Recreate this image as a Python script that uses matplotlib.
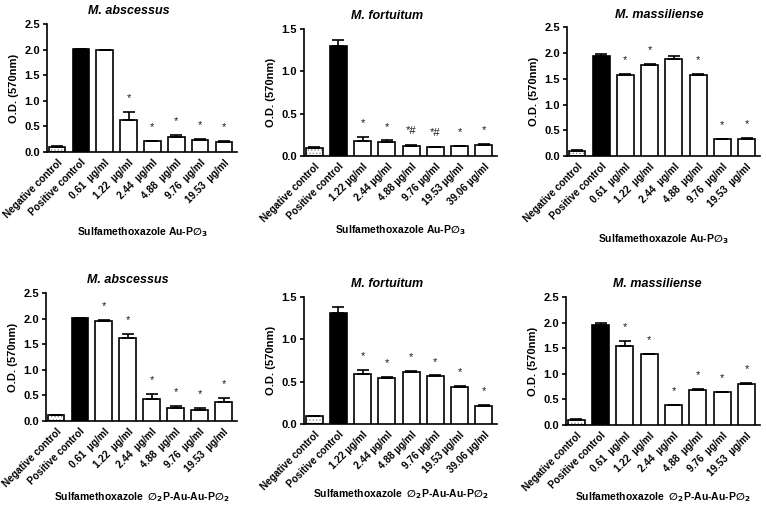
import numpy as np
import matplotlib
matplotlib.use('Agg')
import matplotlib.pyplot as plt

plt.rcParams['font.family'] = ['Liberation Sans', 'DejaVu Sans']
plt.rcParams['font.weight'] = 'bold'
plt.rcParams['mathtext.fontset'] = 'custom'
plt.rcParams['mathtext.rm'] = 'DejaVu Sans:bold'
plt.rcParams['mathtext.default'] = 'rm'
plt.rcParams['hatch.linewidth'] = 0.6

# ---- data ----
conc_ab = ['0.61  µg/ml', '1.22  µg/ml', '2.44  µg/ml', '4.88  µg/ml', '9.76  µg/ml', '19.53  µg/ml']
conc_fo = ['1.22 µg/ml', '2.44 µg/ml', '4.88 µg/ml', '9.76 µg/ml', '19.53 µg/ml', '39.06 µg/ml']
controls = ['Negative control', 'Positive control']

titles = ['M. abscessus', 'M. fortuitum', 'M. massiliense'] * 2
xlabels = ['Sulfamethoxazole Au-P$∅_3$'] * 3 + ['Sulfamethoxazole  $∅_2$P-Au-Au-P$∅_2$'] * 3
cats = [controls + conc_ab, controls + conc_fo, controls + conc_ab] * 2
ymax = [2.5, 1.5, 2.5, 2.5, 1.5, 2.5]

ab_aup3 = [0.10, 2.02, 1.99, 0.63, 0.21, 0.29, 0.24, 0.20]
ab_aup3_err = [0.01, 0.0, 0.01, 0.16, 0.005, 0.04, 0.01, 0.01]
ab_aup3_sig = ['', '', '', '*', '*', '*', '*', '*']

fo_aup3 = [0.10, 1.30, 0.18, 0.165, 0.115, 0.105, 0.12, 0.13]
fo_aup3_err = [0.005, 0.07, 0.045, 0.02, 0.02, 0.005, 0.005, 0.012]
fo_aup3_sig = ['', '', '*', '*', '*#', '*#', '*', '*']

ma_aup3 = [0.10, 1.95, 1.58, 1.76, 1.89, 1.57, 0.33, 0.33]
ma_aup3_err = [0.01, 0.04, 0.02, 0.03, 0.06, 0.03, 0.01, 0.02]
ma_aup3_sig = ['', '', '*', '*', '', '*', '*', '*']

ab_au2 = [0.11, 2.02, 1.95, 1.62, 0.43, 0.26, 0.22, 0.38]
ab_au2_err = [0.005, 0.0, 0.03, 0.08, 0.10, 0.03, 0.03, 0.07]
ab_au2_sig = ['', '', '*', '*', '*', '*', '*', '*']

fo_au2 = [0.10, 1.31, 0.595, 0.547, 0.618, 0.57, 0.44, 0.216]
fo_au2_err = [0.0, 0.07, 0.04, 0.008, 0.012, 0.003, 0.005, 0.012]
fo_au2_sig = ['', '', '*', '*', '*', '*', '*', '*']

ma_au2 = [0.10, 1.96, 1.55, 1.38, 0.39, 0.68, 0.645, 0.81]
ma_au2_err = [0.01, 0.04, 0.09, 0.003, 0.005, 0.025, 0.005, 0.02]
ma_au2_sig = ['', '', '*', '*', '*', '*', '*', '*']

means = [ab_aup3, fo_aup3, ma_aup3, ab_au2, fo_au2, ma_au2]
errs = [ab_aup3_err, fo_aup3_err, ma_aup3_err, ab_au2_err, fo_au2_err, ma_au2_err]
sigs = [ab_aup3_sig, fo_aup3_sig, ma_aup3_sig, ab_au2_sig, fo_au2_sig, ma_au2_sig]

# ---- layout (figure fractions) ----
rects = [
    [0.0614, 0.700, 0.248, 0.2525],
    [0.397, 0.692, 0.252, 0.2505],
    [0.740, 0.692, 0.252, 0.254],
    [0.060, 0.1696, 0.249, 0.2525],
    [0.397, 0.1637, 0.252, 0.2505],
    [0.739, 0.1617, 0.253, 0.2525],
]
title_x = [0.43, 0.43, 0.48, 0.43, 0.43, 0.47]
xlabel_y = [-0.57, -0.53, -0.59, -0.54, -0.50, -0.51]

fig = plt.figure(figsize=(7.66, 5.07), dpi=100)

for i in range(6):
    ax = fig.add_axes(rects[i])
    m = np.array(means[i])
    e = np.array(errs[i])
    x = np.arange(len(m))
    w = 0.7

    # negative control: dotted fill
    ax.bar(x[0], m[0], w, color='white', edgecolor='0.55', hatch='.....', linewidth=0, zorder=2)
    ax.bar(x[0], m[0], w, fill=False, edgecolor='black', linewidth=1.2, zorder=3)
    # positive control
    ax.bar(x[1], m[1], w, color='black', edgecolor='black', linewidth=1.2, zorder=3)
    # treatments
    ax.bar(x[2:], m[2:], w, color='white', edgecolor='black', linewidth=1.2, zorder=3)

    ax.errorbar(x, m, yerr=[np.zeros_like(e), e], fmt='none', ecolor='black',
                elinewidth=1.2, capsize=4, capthick=1.2, zorder=4)

    for xi, top, s in zip(x, m + e, sigs[i]):
        if s:
            ax.annotate(s, (xi, top), xytext=(0, 10), textcoords='offset points',
                        ha='center', va='center', fontsize=8, fontweight='normal', color='0.1')

    ax.set_xlim(-0.42, len(m) - 0.45)
    ax.set_ylim(0, ymax[i])
    ax.set_yticks(np.arange(0, ymax[i] + 0.01, 0.5))
    ax.set_yticklabels(['%.1f' % v for v in np.arange(0, ymax[i] + 0.01, 0.5)])
    ax.set_xticks(x)
    ax.set_xticklabels(cats[i], rotation=45, ha='right', rotation_mode='anchor', fontsize=7.2)
    ax.tick_params(axis='x', length=0, pad=4)
    ax.tick_params(axis='y', direction='out', length=3, width=1.2, labelsize=8, pad=2)

    for sp in ['top', 'right']:
        ax.spines[sp].set_visible(False)
    for sp in ['left', 'bottom']:
        ax.spines[sp].set_linewidth(1.2)

    ax.set_title(titles[i], fontsize=9, fontweight='bold', fontstyle='italic', x=title_x[i], pad=7)
    ax.set_ylabel('O.D. (570nm)', fontsize=8, fontweight='bold', labelpad=4)
    ax.set_xlabel(xlabels[i], fontsize=7.5, fontweight='bold')
    ax.xaxis.set_label_coords(0.5, xlabel_y[i])

fig.savefig('out.png', dpi=100, facecolor='white')
